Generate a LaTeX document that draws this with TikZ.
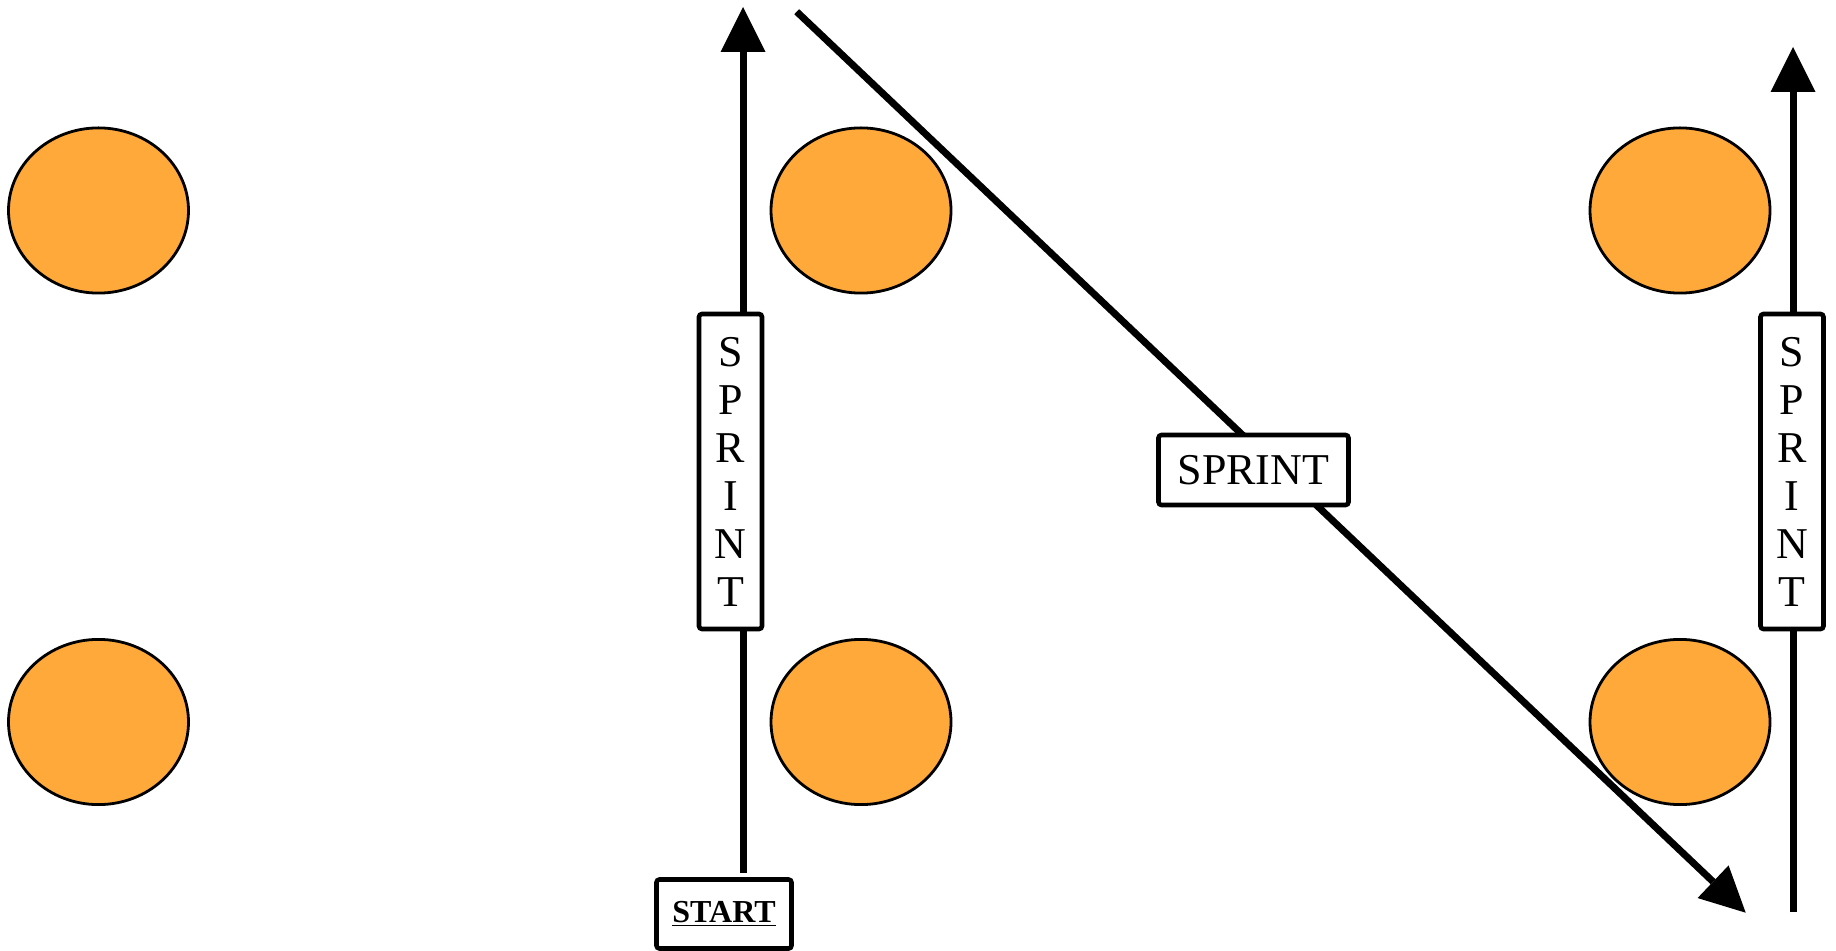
\documentclass[tikz,border=0pt]{standalone}
\usepackage{fontspec}
\setmainfont{Liberation Serif}
\usepackage{tikz}
\usetikzlibrary{arrows.meta,shapes.geometric,positioning}
\definecolor{drillorange}{RGB}{255,169,59}
\tikzstyle{cone} = [ellipse, draw=black, line width=1.4pt, fill=drillorange, minimum width=90pt, minimum height=82.6pt, inner sep=0pt]
\tikzstyle{labelbox} = [rectangle, rounded corners=1.5pt, draw=black, line width=2.3pt, fill=white, inner sep=0pt, font=\fontsize{22}{24}\selectfont]
\tikzstyle{run} = [line width=3.5pt, -{Triangle[length=22.5pt,width=22.5pt,line width=0pt]}]

\begin{document}
\begin{tikzpicture}[x=0.5pt, y=-0.5pt]
    \useasboundingbox (0,0) rectangle (1836,951);

    % Cones
    \node[cone] (coneA) at (98.5,210.5) {};
    \node[cone] (coneB) at (98.5,722) {};
    \node[cone] (coneC) at (861,210.5) {};
    \node[cone] (coneD) at (861,722) {};
    \node[cone] (coneE) at (1680,210.5) {};
    \node[cone] (coneF) at (1680,722) {};

    % Start
    \node[labelbox, minimum width=67.5pt, minimum height=34.5pt, font=\fontsize{16}{18}\selectfont\bfseries] (start) at (724,914) {\underline{START}};

    % Run ends
    \coordinate (upA) at (743,7);
    \coordinate (diagTop) at (796.7,11.7);
    \coordinate (diagEnd) at (1745.7,912.7);
    \coordinate (upBBottom) at (1793,912);
    \coordinate (upBTop) at (1793,47);

    % Runs
    \draw[run, shorten <=2pt] (start.north -| upA) -- (upA);
    \draw[run] (diagTop) -- (diagEnd);
    \draw[run] (upBBottom) -- (upBTop);

    % Sprint labels
    \node[labelbox, minimum width=31.5pt, minimum height=157.5pt, align=center] (sprintA) at (730.5,471.5) {S\\P\\R\\I\\N\\T};
    \node[labelbox, minimum width=95pt, minimum height=35pt] (sprintB) at (1253.5,470) {SPRINT};
    \node[labelbox, minimum width=31.5pt, minimum height=157.5pt, align=center] (sprintC) at (1792,471.5) {S\\P\\R\\I\\N\\T};
\end{tikzpicture}
\end{document}
